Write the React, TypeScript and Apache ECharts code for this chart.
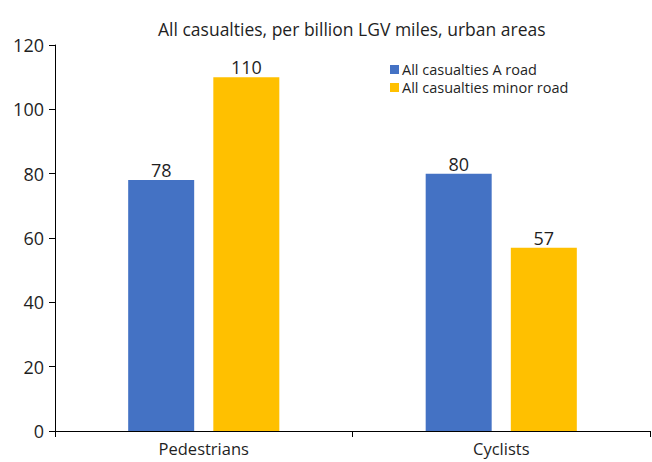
import React, { useEffect, useRef } from "react";
import * as echarts from "echarts";

const categories = ["Pedestrians", "Cyclists"];
const aRoad = [78, 80];
const minorRoad = [110, 57];
const seriesNames = ["All casualties A road", "All casualties minor road"];
const titleText = "All casualties, per billion LGV miles, urban areas";

const FONT = "'Open Sans', sans-serif";
const INK = "#1f1f1f";

export default function App() {
  const ref = useRef<HTMLDivElement>(null);
  useEffect(() => {
    if (!ref.current) return;
    const chart = echarts.init(ref.current, undefined, { renderer: "svg" });
    chart.setOption({
      animation: false,
      backgroundColor: "#fff",
      textStyle: { fontFamily: FONT },
      title: {
        text: titleText,
        left: 153,
        top: 15,
        textStyle: { fontFamily: FONT, fontSize: 17.5, fontWeight: "normal", color: INK },
      },
      legend: {
        orient: "vertical",
        left: 390,
        top: 62,
        padding: 0,
        itemWidth: 9,
        itemHeight: 9,
        itemGap: 3,
        icon: "rect",
        textStyle: { fontFamily: FONT, fontSize: 14.5, color: INK, padding: [0, 0, 0, -2] },
        data: seriesNames,
      },
      grid: { left: 55, right: 2, top: 45, bottom: 31, containLabel: false },
      xAxis: {
        type: "category",
        data: categories,
        axisLine: { lineStyle: { color: "#000", width: 1 } },
        axisTick: { show: true, length: 6, alignWithLabel: false, lineStyle: { color: "#000" } },
        axisLabel: { fontFamily: FONT, fontSize: 16.5, color: INK, margin: 9 },
      },
      yAxis: {
        type: "value",
        min: 0,
        max: 120,
        interval: 20,
        splitLine: { show: false },
        axisLine: { show: true, lineStyle: { color: "#000", width: 1 } },
        axisTick: { show: true, length: 6, lineStyle: { color: "#000" } },
        axisLabel: { fontFamily: FONT, fontSize: 18, color: INK, margin: 11 },
      },
      series: [
        {
          name: seriesNames[0],
          type: "bar",
          data: aRoad,
          barWidth: 66,
          barGap: "29%",
          itemStyle: { color: "#4472C4" },
          label: { show: true, position: "top", fontFamily: FONT, fontSize: 18, color: INK, distance: 1 },
        },
        {
          name: seriesNames[1],
          type: "bar",
          data: minorRoad,
          barWidth: 66,
          barGap: "29%",
          itemStyle: { color: "#FFC000" },
          label: { show: true, position: "top", fontFamily: FONT, fontSize: 18, color: INK, distance: 1 },
        },
      ],
    });
    return () => chart.dispose();
  }, []);
  return (
    <div
      ref={ref}
      style={{ position: "absolute", left: 0, top: 0, width: 652, height: 462, overflow: "hidden" }}
    />
  );
}
